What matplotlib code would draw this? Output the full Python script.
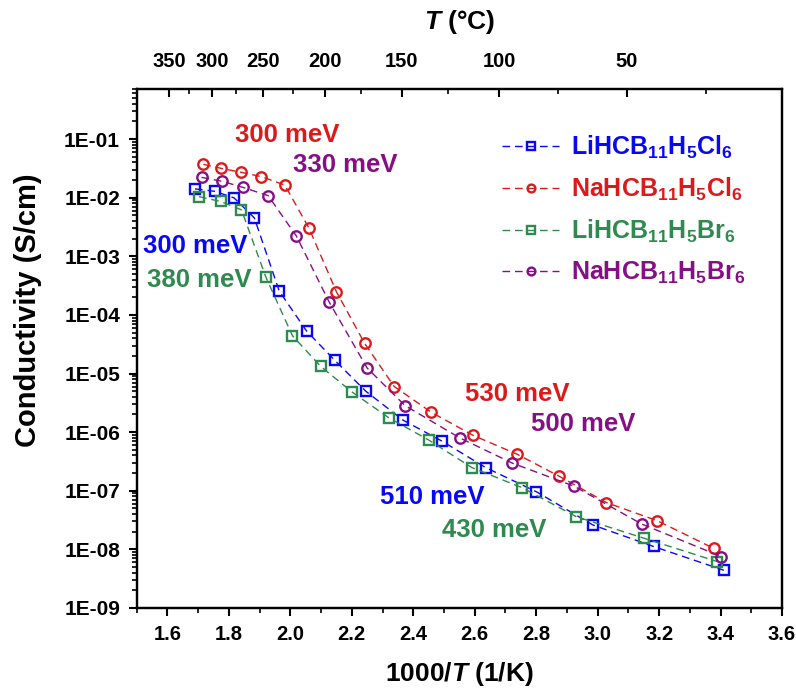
import matplotlib
matplotlib.use("Agg")
import matplotlib.pyplot as plt
import numpy as np
from matplotlib.ticker import FixedLocator, FuncFormatter, LogLocator, NullFormatter, MultipleLocator

plt.rcParams['font.family'] = ['Liberation Sans', 'DejaVu Sans']
plt.rcParams['font.weight'] = 'bold'
plt.rcParams['axes.labelweight'] = 'bold'
plt.rcParams['mathtext.fontset'] = 'custom'
plt.rcParams['mathtext.rm'] = 'Liberation Sans:bold'
plt.rcParams['mathtext.bf'] = 'Liberation Sans:bold'
plt.rcParams['mathtext.it'] = 'Liberation Sans:italic:bold'

# data (x = 1000/T in 1/K, y = conductivity in S/cm)
li_cl_x = [1.690, 1.755, 1.817, 1.883, 1.964, 2.053, 2.145, 2.246, 2.367, 2.494, 2.636, 2.801, 2.985, 3.182, 3.411]
li_cl_y = [1.41e-2, 1.28e-2, 9.9e-3, 4.5e-3, 2.54e-4, 5.3e-5, 1.67e-5, 4.97e-6, 1.6e-6, 7.0e-7, 2.48e-7, 9.6e-8, 2.6e-8, 1.12e-8, 4.4e-9]

na_cl_x = [1.717, 1.776, 1.841, 1.906, 1.982, 2.061, 2.150, 2.242, 2.338, 2.459, 2.595, 2.738, 2.873, 3.028, 3.194, 3.378]
na_cl_y = [3.7e-2, 3.15e-2, 2.7e-2, 2.28e-2, 1.64e-2, 3.0e-3, 2.48e-4, 3.25e-5, 6.0e-6, 2.18e-6, 8.8e-7, 4.2e-7, 1.79e-7, 6.3e-8, 3.08e-8, 1.04e-8]

li_br_x = [1.703, 1.773, 1.841, 1.920, 2.007, 2.099, 2.201, 2.321, 2.451, 2.591, 2.754, 2.931, 3.151, 3.389]
li_br_y = [1.04e-2, 8.6e-3, 6.2e-3, 4.46e-4, 4.4e-5, 1.32e-5, 4.83e-6, 1.75e-6, 7.3e-7, 2.48e-7, 1.13e-7, 3.6e-8, 1.55e-8, 6.2e-9]

na_br_x = [1.711, 1.778, 1.845, 1.928, 2.020, 2.126, 2.250, 2.373, 2.551, 2.723, 2.923, 3.144, 3.402]
na_br_y = [2.22e-2, 1.9e-2, 1.5e-2, 1.08e-2, 2.2e-3, 1.67e-4, 1.24e-5, 2.84e-6, 8.0e-7, 2.95e-7, 1.2e-7, 2.7e-8, 7.55e-9]

series_labels = [r'LiHCB$_{11}$H$_5$Cl$_6$', r'NaHCB$_{11}$H$_5$Cl$_6$',
                 r'LiHCB$_{11}$H$_5$Br$_6$', r'NaHCB$_{11}$H$_5$Br$_6$']
top_ticks_c = [350, 300, 250, 200, 150, 100, 50]
top_minor_c = [325, 275, 225, 175, 125, 75, 25]

blue, red, green, purple = '#0808f4', '#dd1a1a', '#2e8a4e', '#860f86'

fig = plt.figure(figsize=(7.96, 6.92), dpi=100)
ax = fig.add_axes([0.1717, 0.1214, 0.8107, 0.7493])

style = dict(ls=(0, (5.5, 3.5)), lw=1.0, mfc='none', mew=1.7, ms=7.5)
ax.plot(li_cl_x, li_cl_y, marker='s', color=blue, label=series_labels[0], **style)
ax.plot(na_cl_x, na_cl_y, marker='o', color=red, label=series_labels[1], **style)
ax.plot(li_br_x, li_br_y, marker='s', color=green, label=series_labels[2], **style)
ax.plot(na_br_x, na_br_y, marker='o', color=purple, label=series_labels[3], **style)

ax.set_yscale('log')
ax.set_xlim(1.5, 3.6)
ax.set_ylim(1e-9, 0.7)
ax.xaxis.set_major_locator(MultipleLocator(0.2))
ax.xaxis.set_minor_locator(MultipleLocator(0.1))
ax.xaxis.set_major_formatter(FuncFormatter(lambda v, _: f"{v:.1f}"))
ax.yaxis.set_major_locator(LogLocator(base=10, numticks=20))
ax.yaxis.set_minor_locator(LogLocator(base=10, subs=np.arange(2, 10), numticks=20))
ax.yaxis.set_minor_formatter(NullFormatter())
ax.yaxis.set_major_formatter(FuncFormatter(lambda v, _: f"1E{int(round(np.log10(v))):03d}"))

for s in ax.spines.values():
    s.set_linewidth(1.6)
ax.tick_params(which='major', direction='out', length=6, width=1.5, pad=6)
ax.tick_params(which='minor', direction='out', length=3.6, width=1.2)
ax.tick_params(axis='x', labelsize=14.5)
ax.tick_params(axis='y', labelsize=15)
ax.tick_params(top=False, right=False)

ax.set_xlabel(r'1000/$T$ (1/K)', fontsize=19, labelpad=12)
ax.set_ylabel('Conductivity (S/cm)', fontsize=21)
ax.yaxis.set_label_coords(-0.147, 0.575)

# top axis in degrees Celsius
top = ax.twiny()
top.set_xlim(ax.get_xlim())
top.xaxis.set_major_locator(FixedLocator([1000 / (t + 273.15) for t in top_ticks_c]))
top.xaxis.set_minor_locator(FixedLocator([1000 / (t + 273.15) for t in top_minor_c]))
top.set_xticklabels([str(t) for t in top_ticks_c])
top.tick_params(which='major', direction='in', length=6, width=1.5, labelsize=14.5, pad=13)
top.tick_params(which='minor', direction='in', length=3.6, width=1.2)
top.set_xlabel(r'$T$ (°C)', fontsize=19, labelpad=17)
for s in top.spines.values():
    s.set_linewidth(1.6)

# activation energy annotations
fs = 18.5
ax.text(1.989, 0.115, '300 meV', color=red, fontsize=fs, ha='center', va='center')
ax.text(2.178, 0.0355, '330 meV', color=purple, fontsize=fs, ha='center', va='center')
ax.text(1.690, 1.5e-3, '300 meV', color=blue, fontsize=fs, ha='center', va='center')
ax.text(1.703, 4.0e-4, '380 meV', color=green, fontsize=fs, ha='center', va='center')
ax.text(2.738, 4.4e-6, '530 meV', color=red, fontsize=fs, ha='center', va='center')
ax.text(2.953, 1.37e-6, '500 meV', color=purple, fontsize=fs, ha='center', va='center')
ax.text(2.461, 7.9e-8, '510 meV', color=blue, fontsize=fs, ha='center', va='center')
ax.text(2.662, 2.1e-8, '430 meV', color=green, fontsize=fs, ha='center', va='center')

leg = ax.legend(loc='upper left', bbox_to_anchor=(0.566, 0.915), frameon=False,
                borderaxespad=0, borderpad=0,
                fontsize=18, handlelength=2.3, handletextpad=0.45, labelspacing=0.6,
                markerscale=0.75, numpoints=1, labelcolor='linecolor')

fig.savefig('out.png', dpi=100)
